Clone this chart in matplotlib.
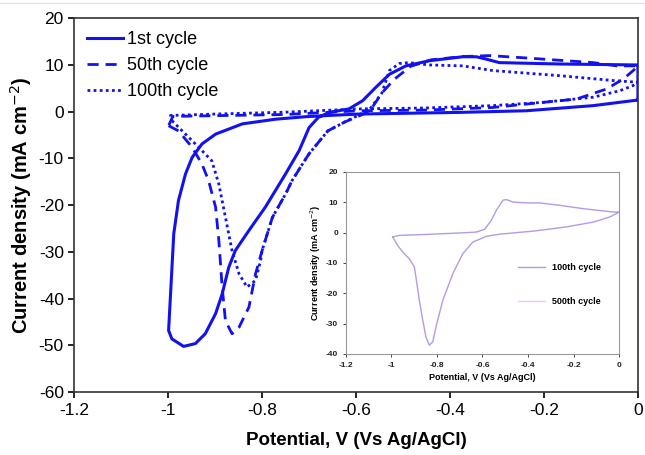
import matplotlib.pyplot as plt

plt.rcParams['font.family'] = ['Liberation Sans', 'DejaVu Sans']
plt.rcParams['axes.unicode_minus'] = False

# 1st cycle (solid): from 0 V along the bottom branch, round the loop, back to 0 V
c1_x = [0.0, -0.095, -0.238, -0.38, -0.593, -0.657, -0.707, -0.771, -0.842, -0.899,
        -0.928, -0.949, -0.963, -0.978, -0.988, -0.999, -0.992, -0.967, -0.942, -0.921,
        -0.899, -0.885, -0.871, -0.857, -0.828, -0.793, -0.75, -0.721, -0.7, -0.68,
        -0.657, -0.615, -0.586, -0.558, -0.529, -0.494, -0.444, -0.373, -0.344, -0.323,
        -0.295, -0.166, -0.003, 0.0, 0.0]
c1_y = [2.5, 1.3, 0.2, -0.15, -0.5, -0.8, -1.07, -1.6, -2.6, -4.8,
        -6.9, -9.8, -13.3, -19.0, -26.1, -46.8, -48.6, -50.2, -49.6, -47.5,
        -43.2, -39.0, -33.3, -29.7, -25.4, -20.4, -13.3, -8.3, -3.4, -1.2,
        -0.15, 0.6, 2.35, 5.2, 8.0, 9.8, 10.9, 11.75, 11.75, 11.25,
        10.5, 10.2, 10.0, 10.0, 2.5]

# 50th cycle (dashed)
c50_x = [-0.999, -0.978, -0.949, -0.928, -0.914, -0.899, -0.892, -0.885, -0.878, -0.864,
         -0.849, -0.828, -0.814, -0.8, -0.778, -0.75, -0.736, -0.714, -0.7, -0.66,
         -0.624, -0.598, -0.571, -0.545, -0.519, -0.484, -0.44, -0.373, -0.316, -0.238,
         -0.095, -0.045, 0.0, -0.01, -0.031, -0.067, -0.131, -0.202, -0.309, -0.451,
         -0.593, -0.75, -0.9, -0.99, -0.999]
c50_y = [-3.0, -4.1, -7.6, -11.2, -14.7, -20.4, -27.6, -37.5, -44.7, -47.5,
         -46.1, -41.8, -34.7, -29.7, -22.6, -17.6, -14.7, -11.2, -9.0, -4.1,
         -2.2, -1.1, 0.1, 4.0, 6.9, 9.7, 11.1, 11.8, 12.0, 11.5,
         10.5, 9.8, 9.8, 8.8, 7.0, 4.85, 2.7, 2.0, 0.9, 0.35,
         0.2, -0.6, -0.85, -1.0, -3.0]

# 100th cycle (dotted)
c100_x = [-0.992, -0.963, -0.935, -0.907, -0.892, -0.878, -0.864, -0.849, -0.832, -0.814,
          -0.803, -0.8, -0.778, -0.75, -0.736, -0.714, -0.7, -0.66, -0.624, -0.598,
          -0.571, -0.545, -0.529, -0.508, -0.487, -0.444, -0.373, -0.309, -0.166, -0.045,
          0.0, -0.01, -0.038, -0.095, -0.202, -0.309, -0.451, -0.593, -0.75, -0.9,
          -0.995, -0.992]
c100_y = [-1.9, -4.8, -7.6, -10.5, -15.5, -22.6, -29.7, -34.7, -37.5, -36.1,
          -31.8, -29.7, -22.6, -17.6, -14.7, -11.2, -9.0, -4.1, -2.2, -0.9,
          0.5, 4.0, 8.8, 10.3, 10.5, 10.0, 9.8, 8.8, 7.7, 6.6,
          6.3, 5.6, 4.5, 3.1, 2.0, 1.3, 0.8, 0.6, -0.1, -0.5,
          -0.8, -1.9]

# inset: 100th cycle
ins_x = [-0.994, -0.972, -0.95, -0.921, -0.899, -0.892, -0.877, -0.862, -0.848, -0.833,
         -0.818, -0.804, -0.774, -0.73, -0.686, -0.642, -0.583, -0.525, -0.378, -0.231,
         -0.113, -0.04, 0.0, -0.025, -0.157, -0.26, -0.348, -0.407, -0.466, -0.495,
         -0.51, -0.539, -0.561, -0.59, -0.627, -0.671, -0.818, -0.965, -0.994]
ins_y = [-1.4, -4.2, -6.4, -8.6, -11.3, -14.6, -22.3, -28.9, -34.4, -37.1,
         -36.0, -31.1, -22.3, -13.5, -6.9, -3.1, -1.2, -0.5, 0.5, 1.9,
         3.5, 5.2, 6.8, 6.8, 7.9, 9.0, 9.8, 9.8, 10.1, 10.9,
         10.7, 7.4, 4.1, 1.1, 0.2, 0.0, -0.5, -0.9, -1.4]

xticks = [-1.2, -1.0, -0.8, -0.6, -0.4, -0.2, 0]
xtick_labels = ['-1.2', '-1', '-0.8', '-0.6', '-0.4', '-0.2', '0']

blue = '#1212ee'

fig = plt.figure(figsize=(6.45, 4.55), dpi=100)
# faint rule along the top edge of the scanned figure
fig.add_artist(plt.Line2D([0, 1], [0.993, 0.993], color='#e4e4e4', lw=1.0))

ax = fig.add_axes([0.115, 0.138, 0.874, 0.822])
ax.plot(c1_x, c1_y, color=blue, lw=2.2, ls='-', solid_joinstyle='round', label='1st cycle')
ax.plot(c50_x, c50_y, color=blue, lw=2.0, ls=(0, (4, 2.5)), label='50th cycle')
ax.plot(c100_x, c100_y, color=blue, lw=2.0, ls=(0, (1, 1.2)), label='100th cycle')
ax.set_xlim(-1.2, 0)
ax.set_ylim(-60, 20)
ax.set_xticks(xticks)
ax.set_xticklabels(xtick_labels)
ax.set_yticks(range(-60, 21, 10))
ax.tick_params(labelsize=12.5, length=4, width=1.2)
for s in ax.spines.values():
    s.set_linewidth(1.2)
    s.set_color('#333333')
ax.set_xlabel('Potential, V (Vs Ag/AgCl)', fontsize=13.5, fontweight='bold', labelpad=10)
ax.set_ylabel('Current density (mA cm$^{-2}$)', fontsize=14.5, fontweight='bold', labelpad=3)
ax.legend(loc='upper left', frameon=False, fontsize=13, handlelength=2.0,
          handletextpad=0.25, labelspacing=0.5, borderaxespad=0.3)

# inset
axi = fig.add_axes([0.536, 0.222, 0.424, 0.40])
axi.plot(ins_x, ins_y, color='#b49ae6', lw=1.0, label='100th cycle')
axi.plot([], [], color='#ecc8f0', lw=1.0, label='500th cycle')
axi.set_xlim(-1.2, 0)
axi.set_ylim(-40, 20)
axi.set_xticks(xticks)
axi.set_xticklabels(xtick_labels)
axi.set_yticks(range(-40, 21, 10))
axi.tick_params(labelsize=6, length=2, width=0.6, colors='#222222')
for lab in axi.get_xticklabels() + axi.get_yticklabels():
    lab.set_fontweight('bold')
for s in axi.spines.values():
    s.set_linewidth(0.8)
    s.set_color('#999999')
axi.set_xlabel('Potential, V (Vs Ag/AgCl)', fontsize=6.5, fontweight='bold', labelpad=3)
axi.set_ylabel('Current density (mA cm$^{-2}$)', fontsize=6.5, fontweight='bold', labelpad=2)
axi.legend(loc='center left', bbox_to_anchor=(0.6, 0.38), frameon=False,
           handlelength=3, labelspacing=2.8, prop={'weight': 'bold', 'size': 6.5})

fig.savefig('out.png', dpi=100)
